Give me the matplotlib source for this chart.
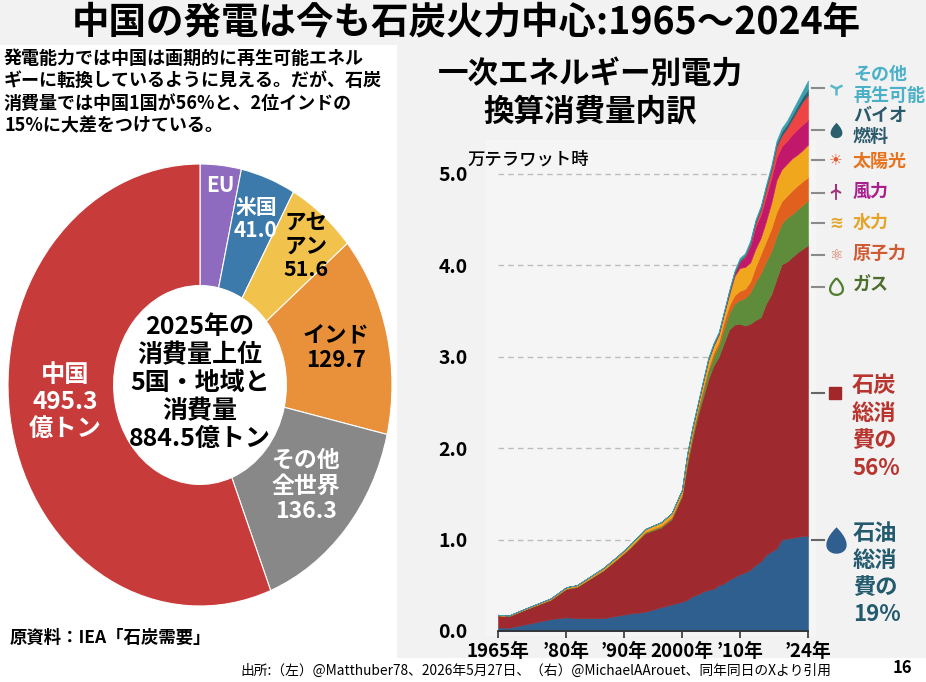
import numpy as np
import matplotlib.pyplot as plt
from matplotlib.patches import Rectangle
from matplotlib.path import Path

plt.rcParams['font.family'] = ['Noto Sans CJK JP', 'DejaVu Sans']

W, H = 926, 682

# left: 2025 coal consumption (100 million tonnes)
pie_names = ['EU', '米国', 'アセアン', 'インド', 'その他全世界', '中国']
pie_values = [30.6, 41.0, 51.6, 129.7, 136.3, 495.3]
pie_colors = ['#8E6BBE', '#3B7AAB', '#F1C24C', '#E8913A', '#888888', '#C83B3B']

# right: China primary energy by source (10^4 TWh)
years = [1965, 1967, 1970, 1975, 1978, 1980, 1985, 1988, 1990, 1993, 1996, 1998,
         2000, 2001, 2002, 2003, 2004, 2005, 2006, 2007, 2008, 2009, 2010, 2011,
         2012, 2013, 2014, 2015, 2016, 2017, 2018, 2019, 2020, 2021, 2022, 2023, 2024]
oil = [0.04, 0.035, 0.07, 0.13, 0.15, 0.14, 0.14, 0.17, 0.19, 0.21, 0.26, 0.29,
       0.32, 0.34, 0.38, 0.40, 0.43, 0.45, 0.46, 0.50, 0.52, 0.56, 0.59, 0.62,
       0.64, 0.67, 0.72, 0.76, 0.83, 0.87, 0.90, 1.00, 1.01, 1.02, 1.03, 1.04, 1.04]
coal = [0.13, 0.125, 0.16, 0.21, 0.31, 0.34, 0.52, 0.63, 0.71, 0.86, 0.87, 0.93,
        1.15, 1.48, 1.72, 1.95, 2.12, 2.30, 2.44, 2.50, 2.63, 2.74, 2.76, 2.74,
        2.70, 2.69, 2.68, 2.67, 2.75, 2.81, 2.95, 3.01, 3.03, 3.07, 3.11, 3.14, 3.18]
gas = [0.003, 0.003, 0.004, 0.006, 0.008, 0.008, 0.008, 0.009, 0.010, 0.011, 0.013, 0.015,
       0.02, 0.04, 0.05, 0.05, 0.07, 0.09, 0.10, 0.12, 0.15, 0.18, 0.23, 0.26,
       0.30, 0.34, 0.42, 0.48, 0.46, 0.47, 0.47, 0.45, 0.48, 0.47, 0.47, 0.48, 0.49]
nuclear = [0, 0, 0, 0, 0, 0, 0, 0, 0, 0.002, 0.008, 0.009,
           0.01, 0.015, 0.015, 0.02, 0.03, 0.03, 0.04, 0.04, 0.08, 0.08, 0.09, 0.10,
           0.10, 0.12, 0.16, 0.21, 0.22, 0.25, 0.26, 0.24, 0.24, 0.26, 0.26, 0.26, 0.25]
hydro = [0.005, 0.005, 0.007, 0.010, 0.012, 0.013, 0.020, 0.022, 0.026, 0.032, 0.038, 0.040,
         0.04, 0.055, 0.055, 0.05, 0.07, 0.09, 0.08, 0.08, 0.09, 0.12, 0.21, 0.25,
         0.24, 0.21, 0.20, 0.18, 0.22, 0.28, 0.35, 0.35, 0.35, 0.35, 0.34, 0.34, 0.36]
wind = [0, 0, 0, 0, 0, 0, 0, 0, 0, 0, 0, 0,
        0, 0, 0, 0, 0, 0.005, 0.005, 0.01, 0.01, 0.02, 0.03, 0.07,
        0.11, 0.18, 0.24, 0.25, 0.27, 0.27, 0.25, 0.25, 0.25, 0.26, 0.28, 0.28, 0.27]
solar = [0, 0, 0, 0, 0, 0, 0, 0, 0, 0, 0, 0,
         0, 0, 0, 0, 0, 0, 0, 0, 0, 0, 0, 0,
         0.01, 0.02, 0.04, 0.06, 0.08, 0.09, 0.12, 0.12, 0.14, 0.17, 0.21, 0.25, 0.27]
bio = [0, 0, 0, 0, 0, 0, 0, 0, 0, 0, 0, 0,
       0.005, 0.005, 0.01, 0.01, 0.01, 0.01, 0.01, 0.01, 0.01, 0.015, 0.015, 0.015,
       0.01, 0.015, 0.02, 0.02, 0.025, 0.02, 0.03, 0.04, 0.04, 0.04, 0.045, 0.055, 0.06]
other = [0, 0, 0, 0, 0, 0, 0, 0, 0, 0, 0, 0,
         0.005, 0.01, 0.01, 0.01, 0.01, 0.015, 0.015, 0.01, 0.01, 0.015, 0.015, 0.025,
         0.02, 0.025, 0.02, 0.02, 0.025, 0.03, 0.03, 0.04, 0.04, 0.05, 0.055, 0.065, 0.10]
layer_colors = ['#2F5F8F', '#9E2A2F', '#5E8C3A', '#E2601E', '#F0A71E',
                '#C2186B', '#EE4444', '#2B5F6E', '#3AA0AE']

tick_years = [1965, 1978, 1989, 2000, 2011, 2024]
tick_labels = ['1965年', '’80年', '’90年', '2000年', '’10年', '’24年']


def box(l, t, r, b):
    return [l / W, 1 - b / H, (r - l) / W, (b - t) / H]


def ftext(x, y, s, **kw):
    fig.text(x / W, 1 - y / H, s, **kw)


fig = plt.figure(figsize=(W / 100, H / 100), dpi=100)
fig.patch.set_facecolor('#F2F2F2')

# background panels, in pixel space
bg = fig.add_axes([0, 0, 1, 1])
bg.set_xlim(0, W)
bg.set_ylim(H, 0)
bg.axis('off')
bg.add_patch(Rectangle((0, 45), 397, 613, color='white', lw=0))
bg.add_patch(Rectangle((0, 658), W, 24, color='white', lw=0))
bg.add_patch(Rectangle((486, 140), 330, 496, color='#F5F5F5', lw=0))

# ---- donut ----
axp = fig.add_axes(box(8, 164, 392, 606))
axp.pie(pie_values, colors=pie_colors, startangle=90, counterclock=False,
        wedgeprops=dict(width=0.55, edgecolor='white', linewidth=0.8))
axp.set_aspect('auto')
axp.set_xlim(-1, 1)
axp.set_ylim(-1, 1)
axp.axis('off')

lab = dict(ha='center', va='center', fontweight='bold', linespacing=1.15)
ftext(220, 186, 'EU', color='white', fontsize=15, **lab)
ftext(256, 219, '米国\n41.0', color='white', fontsize=15, **lab)
ftext(306, 246, 'アセ\nアン\n51.6', color='black', fontsize=15.5, **lab)
ftext(336, 348, 'インド\n129.7', color='black', fontsize=16, **lab)
ftext(306, 486, 'その他\n全世界\n136.3', color='white', fontsize=16.5, **lab)
ftext(65, 402, '中国\n495.3\n億トン', color='white', fontsize=17.5, **lab)
ftext(200, 383, '2025年の\n消費量上位\n5国・地域と\n消費量\n884.5億トン',
      color='black', fontsize=18, ha='center', va='center', fontweight='bold',
      linespacing=1.2)

ftext(4, 49, '発電能力では中国は画期的に再生可能エネル\n'
      'ギーに転換しているように見える。だが、石炭\n'
      '消費量では中国1国が56%と、2位インドの\n'
      '15%に大差をつけている。',
      fontsize=13, fontweight='bold', va='top', ha='left', linespacing=1.22)
ftext(10, 638, '原資料：IEA「石炭需要」', fontsize=12.5, fontweight='bold', va='center')

# ---- stacked area ----
ax = fig.add_axes(box(498, 64, 808, 631))
ax.patch.set_alpha(0)
ax.stackplot(years, oil, coal, gas, nuclear, hydro, wind, solar, bio, other,
             colors=layer_colors, linewidth=0.4, edgecolor='face', zorder=2)
ax.set_xlim(1965, 2024)
ax.set_ylim(0, 6.2)
ax.set_yticks([0, 1, 2, 3, 4, 5])
ax.set_yticklabels([f'{v:.1f}' for v in [0, 1, 2, 3, 4, 5]],
                   fontsize=14, fontweight='bold')
ax.yaxis.grid(True, color='#BDBDBD', linestyle=(0, (4, 3)), linewidth=1)
ax.set_axisbelow(True)
ax.tick_params(axis='y', length=0, pad=22)
ax.set_xticks(tick_years)
ax.set_xticklabels(tick_labels, fontsize=13.5, fontweight='bold')
ax.tick_params(axis='x', length=5, width=1.2, color='#333333', pad=3)
for s in ['top', 'right', 'left']:
    ax.spines[s].set_visible(False)
ax.spines['bottom'].set_color('#333333')
ax.spines['bottom'].set_linewidth(1.3)

ftext(590, 93, '一次エネルギー別電力\n換算消費量内訳', fontsize=22,
      fontweight='bold', ha='center', va='center', linespacing=1.2)
ftext(467, 160, '万テラワット時', fontsize=12.5, fontweight='medium', va='center')

# ---- right-hand legend ----
t = np.linspace(0, 2 * np.pi, 60)
drop = Path(np.column_stack([np.sin(t) * np.sin(t / 2), np.cos(t)]))

legend_items = [
    ('その他\n再生可能', '#4BB0C8', 85, 88),
    ('バイオ\n燃料', '#2B5A6B', 126, 130),
    ('太陽光', '#E8731E', 161, 160),
    ('風力', '#A8208E', 191, 193),
    ('水力', '#E3A52A', 222, 223),
    ('原子力', '#D05A32', 253, 255),
    ('ガス', '#4E6E2E', 285, 287),
]
for name, col, ty, dy in legend_items:
    ftext(853, ty, name, color=col, fontsize=13, fontweight='bold',
          va='center', linespacing=1.1)
    bg.plot([812, 824], [dy, dy], color='#8A8A8A', lw=1.5)

bg.plot(836, 88, marker='1', ms=10, mew=1.8, color='#5BB8C8')
bg.plot(836, 130, marker=drop, ms=11, color='#2B5F6E', mew=0)
bg.text(836, 160, '☀', family='DejaVu Sans', fontsize=11, color='#E5552B',
        ha='center', va='center')
bg.plot(836, 190, marker='2', ms=9, mew=1.5, color='#A0307A')
bg.plot([836, 836], [190, 199], color='#A0307A', lw=1.3)
bg.text(836, 223, '≋', family='DejaVu Sans', fontsize=12, color='#E3A52A',
        fontweight='bold', ha='center', va='center')
bg.text(836, 255, '⚛', family='DejaVu Sans', fontsize=11, color='#D07050',
        ha='center', va='center')
bg.plot(836, 286, marker=drop, ms=12, mfc='none', mec='#4E7E2E', mew=1.6)

ftext(852, 427, '石炭\n総消\n費の\n56%', color='#B8352F', fontsize=16,
      fontweight='bold', va='center', linespacing=1.25)
bg.plot([812, 824], [393, 393], color='#666666', lw=1.5)
bg.plot(835, 393, marker='s', ms=9, color='#A0282A')

ftext(853, 574, '石油\n総消\n費の\n19%', color='#245A6E', fontsize=16,
      fontweight='bold', va='center', linespacing=1.22)
bg.plot([812, 824], [540, 540], color='#666666', lw=1.5)
bg.plot(836, 540, marker=drop, ms=19, color='#2F5F8F', mew=0)

ftext(240, 671, '出所:（左）@Matthuber78、2026年5月27日、（右）@MichaelAArouet、同年同日のXより引用',
      fontsize=9.9, va='center')
ftext(902, 668, '16', fontsize=12, fontweight='bold', ha='center', va='center')

ftext(466, 23, '中国の発電は今も石炭火力中心:1965～2024年', fontsize=27,
      fontweight='bold', ha='center', va='center')

fig.savefig('out.png', dpi=100, facecolor=fig.get_facecolor())
